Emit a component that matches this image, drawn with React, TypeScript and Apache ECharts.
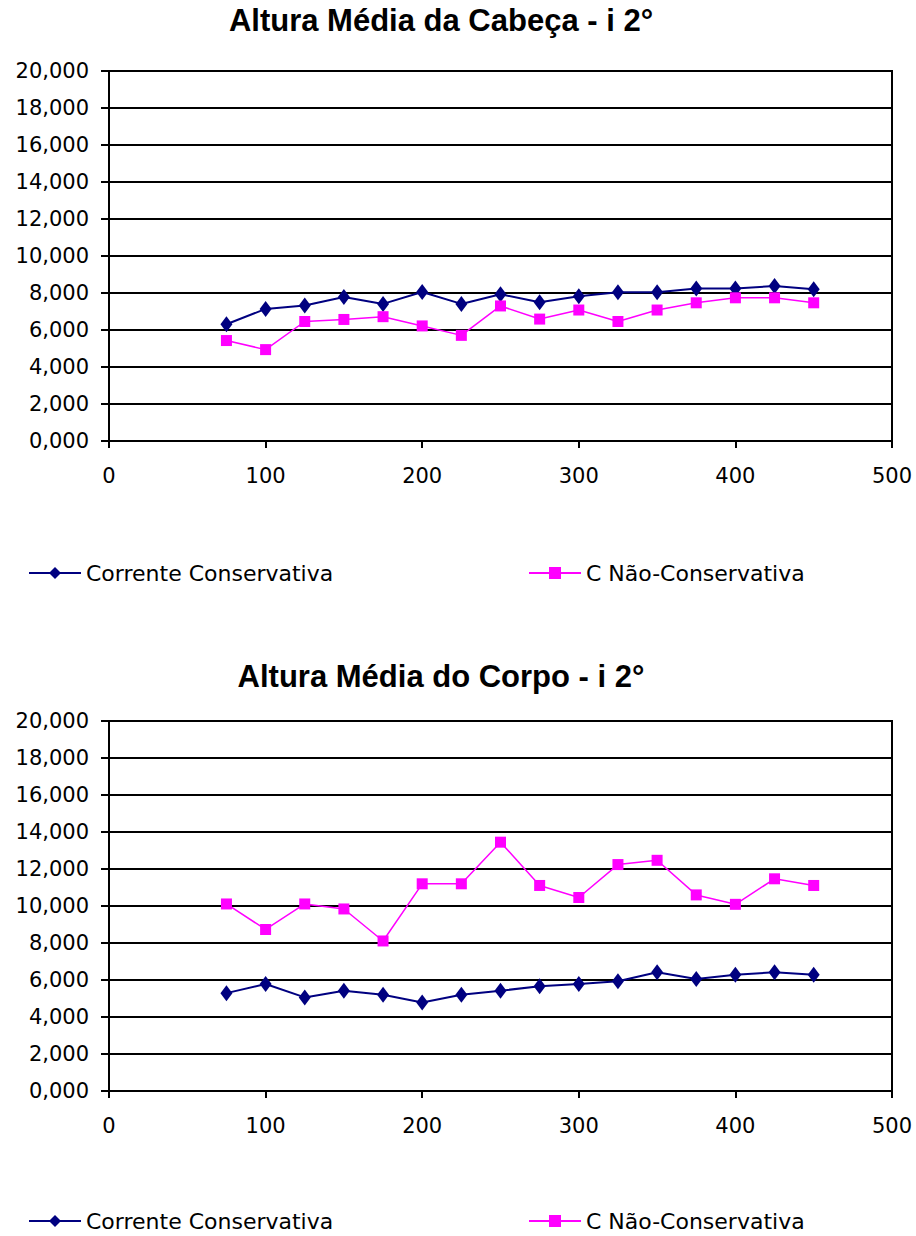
import React, { useEffect, useRef } from "react";
import * as echarts from "echarts";

const xValues = [75, 100, 125, 150, 175, 200, 225, 250, 275, 300, 325, 350, 375, 400, 425, 450];
const headConservative = [6.31, 7.14, 7.32, 7.78, 7.41, 8.05, 7.41, 7.93, 7.5, 7.82, 8.04, 8.04, 8.24, 8.24, 8.38, 8.2];
const headNonConservative = [5.43, 4.94, 6.46, 6.57, 6.72, 6.22, 5.71, 7.3, 6.59, 7.08, 6.46, 7.08, 7.47, 7.74, 7.74, 7.47];
const bodyConservative = [5.29, 5.78, 5.06, 5.42, 5.2, 4.78, 5.2, 5.42, 5.66, 5.78, 5.93, 6.42, 6.06, 6.29, 6.42, 6.29];
const bodyNonConservative = [10.11, 8.73, 10.11, 9.84, 8.11, 11.2, 11.2, 13.45, 11.11, 10.46, 12.24, 12.47, 10.6, 10.09, 11.47, 11.11];

const titles = ["Altura Média da Cabeça - i 2°", "Altura Média do Corpo - i 2°"];
const seriesNames = ["Corrente Conservativa", "C Não-Conservativa"];

const TITLE_FONT = "'Liberation Sans', Arial, sans-serif";
const FONT = "'DejaVu Sans', sans-serif";

const pairs = (vals: number[]) => xValues.map((x, i) => [x, vals[i]]);

export default function App() {
  const ref = useRef<HTMLDivElement>(null);
  useEffect(() => {
    document.body.style.margin = "0";
    const chart = echarts.init(ref.current!, null, { renderer: "svg" });
    const gridTops = [71, 721];
    const titleTops = [5, 661];
    const legendTops = [562, 1210];

    const xAxis = gridTops.map((_, i) => ({
      type: "value",
      gridIndex: i,
      min: 0,
      max: 500,
      interval: 100,
      axisLine: { show: true, onZero: false, lineStyle: { color: "#000", width: 2 } },
      axisTick: { show: true, inside: false, length: 7, lineStyle: { color: "#000", width: 2 } },
      axisLabel: { color: "#000", fontSize: 21, fontFamily: FONT, margin: 24 },
      splitLine: { show: false },
    }));
    const yAxis = gridTops.map((_, i) => ({
      type: "value",
      gridIndex: i,
      min: 0,
      max: 20,
      interval: 2,
      axisLine: { show: true, lineStyle: { color: "#000", width: 2 } },
      axisTick: { show: true, inside: false, length: 8, lineStyle: { color: "#000", width: 2 } },
      axisLabel: {
        color: "#000",
        fontSize: 21,
        fontFamily: FONT,
        margin: 20,
        formatter: (v: number) => v.toFixed(3).replace(".", ","),
      },
      splitLine: { show: true, lineStyle: { color: "#000", width: 2 } },
    }));

    const mkSeries = (name: string, vals: number[], idx: number, blue: boolean) => ({
      name,
      type: "line",
      xAxisIndex: idx,
      yAxisIndex: idx,
      data: pairs(vals),
      symbol: blue ? "diamond" : "rect",
      symbolSize: blue ? [12, 16] : [11, 11],
      lineStyle: { color: blue ? "#000080" : "#FF00FF", width: blue ? 2 : 1.5 },
      itemStyle: { color: blue ? "#000080" : "#FF00FF" },
      emphasis: { disabled: true },
    });

    const legends: any[] = [];
    legendTops.forEach((t) => {
      legends.push({
        data: [seriesNames[0]],
        left: 28,
        top: t,
        padding: 0,
        itemWidth: 52,
        itemHeight: 15,
        textStyle: { fontSize: 22, fontFamily: FONT, color: "#000" },
      });
      legends.push({
        data: [seriesNames[1]],
        left: 528,
        top: t,
        padding: 0,
        itemWidth: 52,
        itemHeight: 15,
        textStyle: { fontSize: 22, fontFamily: FONT, color: "#000" },
      });
    });

    chart.setOption({
      animation: false,
      backgroundColor: "#fff",
      title: titles.map((t, i) => ({
        text: t,
        left: 441,
        textAlign: "center",
        top: titleTops[i],
        padding: 0,
        textStyle: { fontSize: 31, fontWeight: "bold", fontFamily: TITLE_FONT, color: "#000" },
      })),
      legend: legends,
      grid: gridTops.map((t) => ({
        left: 109,
        right: 24,
        top: t,
        height: 370,
        show: true,
        borderColor: "#000",
        borderWidth: 2,
        backgroundColor: "transparent",
      })),
      xAxis,
      yAxis,
      series: [
        mkSeries(seriesNames[0], headConservative, 0, true),
        mkSeries(seriesNames[1], headNonConservative, 0, false),
        mkSeries(seriesNames[0], bodyConservative, 1, true),
        mkSeries(seriesNames[1], bodyNonConservative, 1, false),
      ],
    });
    return () => chart.dispose();
  }, []);
  return <div ref={ref} style={{ width: 916, height: 1236 }} />;
}
